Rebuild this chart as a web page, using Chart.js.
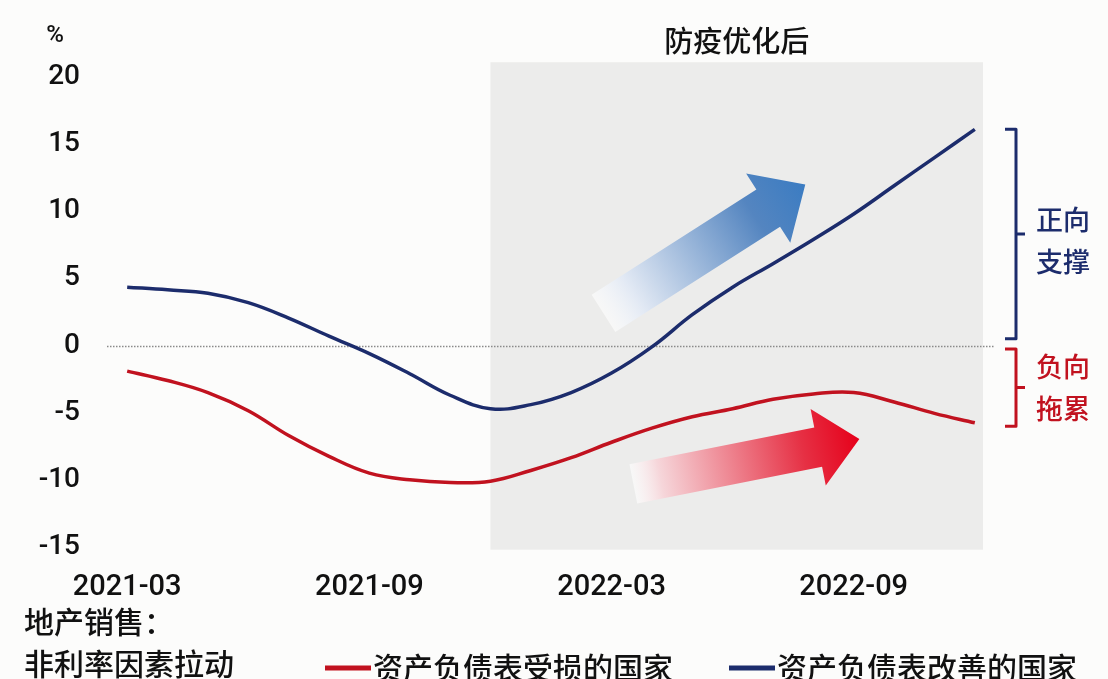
<!DOCTYPE html>
<html>
<head>
<meta charset="utf-8">
<script src="https://cdn.jsdelivr.net/npm/chart.js@4.4.1/dist/chart.umd.min.js"></script>
<style>
  html, body { margin: 0; padding: 0; background: #fcfcfb; overflow: hidden; }
  #wrap { width: 1108px; height: 679px; position: relative; }
</style>
</head>
<body>
<div id="wrap"><canvas id="c"></canvas></div>
<script>
// monthly points, 2021-03 .. 2022-12
const months = ['2021-03','2021-04','2021-05','2021-06','2021-07','2021-08','2021-09','2021-10',
  '2021-11','2021-12','2022-01','2022-02','2022-03','2022-04','2022-05','2022-06','2022-07',
  '2022-08','2022-09','2022-10','2022-11','2022-12'];
const damaged = [-1.9,-2.6,-3.5,-4.85,-6.7,-8.25,-9.5,-10.0,-10.2,-10.1,-9.3,-8.35,-7.2,-6.15,
  -5.3,-4.7,-4.0,-3.6,-3.5,-4.2,-5.05,-5.75];
const improved = [4.35,4.15,3.9,3.2,2.05,0.7,-0.6,-2.1,-3.7,-4.7,-4.4,-3.5,-2.05,-0.1,
  2.3,4.35,6.1,7.9,9.8,11.9,14.0,16.1];
const xTickLabels = ['2021-03','2021-09','2022-03','2022-09'];
const seriesNames = ['资产负债表受损的国家','资产负债表改善的国家'];
const seriesColors = ['#c1121f','#1c2c6c'];
const shadeStart = '2021-12';
const shadeTitle = '防疫优化后';
const unitLabel = '%';
const noteLines = ['地产销售：','非利率因素拉动'];
const braceUp = ['正向','支撑'];
const braceDown = ['负向','拖累'];

const CJK = '"Noto Sans CJK SC", "Noto Sans", sans-serif';
const NUM = 'Roboto, "Liberation Sans", Arial, sans-serif';

function drawArrow(ctx, x0, y0, x1, y1, shaftW, headW, headL, stops) {
  const ang = Math.atan2(y1 - y0, x1 - x0);
  const len = Math.hypot(x1 - x0, y1 - y0);
  ctx.save();
  ctx.translate(x0, y0);
  ctx.rotate(ang);
  const g = ctx.createLinearGradient(0, 0, len, 0);
  stops.forEach(s => g.addColorStop(s[0], s[1]));
  ctx.fillStyle = g;
  ctx.beginPath();
  ctx.moveTo(0, -shaftW / 2);
  ctx.lineTo(len - headL, -shaftW / 2);
  ctx.lineTo(len - headL, -headW / 2);
  ctx.lineTo(len, 0);
  ctx.lineTo(len - headL, headW / 2);
  ctx.lineTo(len - headL, shaftW / 2);
  ctx.lineTo(0, shaftW / 2);
  ctx.closePath();
  ctx.fill();
  ctx.restore();
}

function drawBrace(ctx, x, yTop, yBot, color) {
  const yMid = (yTop + yBot) / 2;
  ctx.save();
  ctx.strokeStyle = color;
  ctx.lineWidth = 3;
  ctx.lineJoin = 'round';
  ctx.beginPath();
  ctx.moveTo(x - 11, yTop);
  ctx.lineTo(x, yTop);
  ctx.lineTo(x, yBot);
  ctx.lineTo(x - 11, yBot);
  ctx.moveTo(x, yMid);
  ctx.lineTo(x + 9, yMid);
  ctx.stroke();
  ctx.restore();
}

const backdrop = {
  id: 'backdrop',
  beforeDatasetsDraw(chart) {
    const { ctx, chartArea, scales: { x, y } } = chart;
    ctx.save();
    // shaded period
    const sx = x.getPixelForValue(months.indexOf(shadeStart));
    ctx.fillStyle = '#ececeb';
    ctx.fillRect(sx, y.getPixelForValue(21.1), chartArea.right - 12 - sx,
      y.getPixelForValue(-15.2) - y.getPixelForValue(21.1));
    // zero line
    const y0 = Math.round(y.getPixelForValue(0)) + 0.5;
    ctx.strokeStyle = '#8a8a8a';
    ctx.lineWidth = 1.5;
    ctx.setLineDash([1.5, 1.5]);
    ctx.beginPath();
    ctx.moveTo(chartArea.left, y0);
    ctx.lineTo(chartArea.right, y0);
    ctx.stroke();
    ctx.setLineDash([]);
    // trend arrows
    drawArrow(ctx, x.getPixelForValue(11.8), y.getPixelForValue(2.4),
      x.getPixelForValue(16.8), y.getPixelForValue(12.0), 44, 82, 44,
      [[0, 'rgba(255,255,255,0.6)'], [0.15, 'rgba(226,233,244,1)'], [0.75, '#5485c0'], [1, '#3b7cc2']]);
    drawArrow(ctx, x.getPixelForValue(12.54), y.getPixelForValue(-10.3),
      x.getPixelForValue(18.14), y.getPixelForValue(-6.96), 40, 78, 42,
      [[0, 'rgba(255,255,255,0.6)'], [0.12, 'rgba(246,214,218,1)'], [0.75, '#e63044'], [1, '#e6001a']]);
    ctx.restore();
  },
  afterDraw(chart) {
    const { ctx, chartArea, scales: { x, y } } = chart;
    ctx.save();
    ctx.textBaseline = 'middle';
    ctx.fillStyle = '#111';
    ctx.font = '500 24px ' + NUM;
    ctx.textAlign = 'center';
    ctx.fillText(unitLabel, 55, 36);
    ctx.font = '500 29px ' + CJK;
    const sx = x.getPixelForValue(months.indexOf(shadeStart));
    ctx.fillText(shadeTitle, (sx + chartArea.right - 12) / 2, 41);

    // side braces
    const bx = chartArea.right + 21;
    drawBrace(ctx, bx, y.getPixelForValue(16.1), y.getPixelForValue(0.5), seriesColors[1]);
    drawBrace(ctx, bx, y.getPixelForValue(-0.25), y.getPixelForValue(-6.0), seriesColors[0]);
    ctx.font = '500 27px ' + CJK;
    ctx.textAlign = 'left';
    ctx.fillStyle = seriesColors[1];
    ctx.fillText(braceUp[0], bx + 20, 220);
    ctx.fillText(braceUp[1], bx + 20, 262);
    ctx.fillStyle = seriesColors[0];
    ctx.fillText(braceDown[0], bx + 20, 367);
    ctx.fillText(braceDown[1], bx + 20, 409);

    // note bottom-left
    ctx.fillStyle = '#111';
    ctx.font = '500 30px ' + CJK;
    ctx.fillText(noteLines[0], 24, 622);
    ctx.fillText(noteLines[1], 24, 664);

    // legend
    const legendX = [325, 729];
    seriesNames.forEach((name, i) => {
      ctx.strokeStyle = seriesColors[i];
      ctx.lineWidth = 5;
      ctx.beginPath();
      ctx.moveTo(legendX[i], 668);
      ctx.lineTo(legendX[i] + 46, 668);
      ctx.stroke();
      ctx.fillStyle = '#111';
      ctx.fillText(name, legendX[i] + 48, 668);
    });
    ctx.restore();
  }
};

new Chart(document.getElementById('c'), {
  type: 'line',
  data: {
    labels: months,
    datasets: [
      { label: seriesNames[0], data: damaged, borderColor: seriesColors[0], borderWidth: 3.5,
        pointRadius: 0, tension: 0.4, fill: false },
      { label: seriesNames[1], data: improved, borderColor: seriesColors[1], borderWidth: 3.5,
        pointRadius: 0, tension: 0.4, fill: false }
    ]
  },
  options: {
    responsive: true,
    maintainAspectRatio: false,
    animation: false,
    layout: { padding: { top: 77, right: 113, left: 0, bottom: 0 } },
    plugins: { legend: { display: false }, tooltip: { enabled: false } },
    scales: {
      x: {
        offset: true,
        grid: { display: false },
        border: { display: false },
        afterFit: s => { s.height = 132; },
        ticks: {
          autoSkip: false, maxRotation: 0, padding: 15, color: '#111',
          font: { family: NUM, size: 29, weight: '500' },
          callback: (v, i) => xTickLabels.includes(months[i]) ? months[i] : null
        }
      },
      y: {
        min: -15, max: 20,
        grid: { display: false, drawTicks: false },
        border: { display: false },
        afterFit: s => { s.width = 107; },
        ticks: { stepSize: 5, padding: 27, color: '#111', font: { family: NUM, size: 28, weight: '500' } }
      }
    }
  },
  plugins: [backdrop]
});
</script>
</body>
</html>
